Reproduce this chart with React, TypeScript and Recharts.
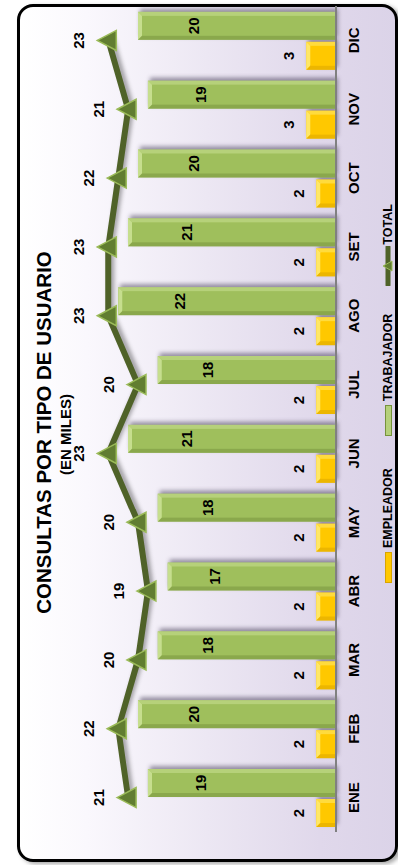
import React from 'react';
import { ComposedChart, Bar, Line, XAxis, YAxis, LabelList } from 'recharts';

// datos (en miles)
const months = ['ENE', 'FEB', 'MAR', 'ABR', 'MAY', 'JUN', 'JUL', 'AGO', 'SET', 'OCT', 'NOV', 'DIC'];
const empleador = [2, 2, 2, 2, 2, 2, 2, 2, 2, 2, 3, 3];
const trabajador = [19, 20, 18, 17, 18, 21, 18, 22, 21, 20, 19, 20];
const total = [21, 22, 20, 19, 20, 23, 20, 23, 23, 22, 21, 23];

const data = months.map((month, i) => ({
  month,
  empleador: empleador[i],
  trabajador: trabajador[i],
  total: total[i],
}));

const FONT = '"Liberation Sans", Arial, sans-serif';
const W = 865;
const H = 398;

const bevelBar = (base: string, light: string, dark: string) => (props: any) => {
  const { x, y, width, height } = props;
  if (!height || height <= 0) return null;
  const b = Math.min(4, width / 4, height / 3);
  return (
    <g style={{ filter: 'drop-shadow(3px 2px 2px rgba(40,30,60,0.45))' }}>
      <rect x={x} y={y} width={width} height={height} fill={base} />
      <polygon
        points={`${x},${y} ${x + width},${y} ${x + width - b},${y + b} ${x + b},${y + b}`}
        fill={light}
      />
      <polygon
        points={`${x + width},${y} ${x + width},${y + height} ${x + width - b},${y + height} ${x + width - b},${y + b}`}
        fill={light}
        opacity={0.6}
      />
      <polygon
        points={`${x},${y} ${x + b},${y + b} ${x + b},${y + height} ${x},${y + height}`}
        fill={dark}
        opacity={0.5}
      />
    </g>
  );
};

const GreenBar = bevelBar('#9fbf5c', '#c6de8e', '#76923c');
const GoldBar = bevelBar('#ffc800', '#ffe766', '#d9a400');

const InnerLabel = (props: any) => {
  const vb = props.viewBox || props;
  const { x, y, width, height } = vb;
  return (
    <text
      x={x + width / 2}
      y={y + height * 0.28}
      textAnchor="middle"
      dominantBaseline="central"
      fontFamily={FONT}
      fontWeight="bold"
      fontSize={15}
      fill="#000"
    >
      {props.value}
    </text>
  );
};

const Triangle = (props: any) => {
  const { cx, cy } = props;
  if (cx == null || cy == null) return null;
  return (
    <polygon
      points={`${cx},${cy - 11} ${cx + 10},${cy + 8} ${cx - 10},${cy + 8}`}
      fill="#617d31"
      stroke="#9bbb59"
      strokeWidth={1.5}
    />
  );
};

const labelStyle = { fontFamily: FONT, fontWeight: 'bold', fontSize: 15, fill: '#000' };

const Legend = () => (
  <div
    style={{
      position: 'absolute',
      left: 282,
      top: 380,
      display: 'flex',
      alignItems: 'center',
      fontFamily: FONT,
      fontWeight: 'bold',
      fontSize: 12.5,
      lineHeight: '16px',
    }}
  >
    <span style={{ width: 31, height: 7, background: '#ffc800', border: '1px solid #d9a400', boxSizing: 'border-box' }} />
    <span style={{ marginLeft: 4 }}>EMPLEADOR</span>
    <span style={{ marginLeft: 32, width: 31, height: 7, background: '#b5d07a', border: '1px solid #76923c', boxSizing: 'border-box' }} />
    <span style={{ marginLeft: 4 }}>TRABAJADOR</span>
    <svg width={40} height={12} style={{ marginLeft: 28 }}>
      <line x1={1} y1={6} x2={39} y2={6} stroke="#4f6228" strokeWidth={5} strokeLinecap="round" />
      <polygon points="20,1 25,10 15,10" fill="#617d31" stroke="#9bbb59" strokeWidth={1} />
    </svg>
    <span style={{ marginLeft: 1 }}>TOTAL</span>
  </div>
);

export default function App() {
  return (
    <div style={{ position: 'fixed', left: 0, top: 0, width: H, height: W, overflow: 'hidden', background: '#fff' }}>
      <div
        style={{
          position: 'absolute',
          left: 0,
          top: 0,
          width: W,
          height: H,
          transformOrigin: '0 0',
          transform: `translate(0px, ${W}px) rotate(-90deg)`,
        }}
      >
        <div
          style={{
            position: 'absolute',
            left: 3,
            top: 17,
            width: 858,
            height: 381,
            boxSizing: 'border-box',
            border: '3px solid #000',
            borderRadius: 16,
            background: 'linear-gradient(to bottom, #ffffff 0%, #faf8fd 18%, #ece7f3 50%, #e0d8eb 80%, #dbd3e8 100%)',
            boxShadow: '-2px 3px 4px rgba(0,0,0,0.35)',
          }}
        />
        <div
          style={{
            position: 'absolute',
            left: 0,
            top: 34,
            width: W,
            textAlign: 'center',
            fontFamily: FONT,
            fontWeight: 'bold',
            fontSize: 20.5,
            lineHeight: '20.5px',
          }}
        >
          CONSULTAS POR TIPO DE USUARIO
        </div>
        <div
          style={{
            position: 'absolute',
            left: 0,
            top: 58,
            width: W - 4,
            textAlign: 'center',
            fontFamily: FONT,
            fontWeight: 'bold',
            fontSize: 15,
            lineHeight: '15px',
          }}
        >
          (EN MILES)
        </div>
        <div style={{ position: 'absolute', left: 0, top: 0 }}>
          <ComposedChart
            width={W}
            height={H}
            data={data}
            margin={{ top: 39, right: 6, bottom: 32, left: 33 }}
            barGap={2}
          >
            <XAxis
              dataKey="month"
              interval={0}
              height={30}
              tickLine={false}
              tickMargin={6}
              axisLine={{ stroke: '#808080', strokeWidth: 2 }}
              tick={labelStyle}
            />
            <YAxis hide domain={[0, 30]} />
            <Bar dataKey="empleador" name="EMPLEADOR" barSize={28} fill="#ffc800" shape={GoldBar} isAnimationActive={false}>
              <LabelList dataKey="empleador" position="top" offset={12} style={labelStyle} />
            </Bar>
            <Bar dataKey="trabajador" name="TRABAJADOR" barSize={28} fill="#9fbf5c" shape={GreenBar} isAnimationActive={false}>
              <LabelList dataKey="trabajador" content={InnerLabel} />
            </Bar>
            <Line
              dataKey="total"
              name="TOTAL"
              type="linear"
              stroke="#4f6228"
              strokeWidth={6}
              dot={Triangle}
              activeDot={false}
              isAnimationActive={false}
              style={{ filter: 'drop-shadow(2px 3px 2px rgba(0,0,0,0.35))' }}
            >
              <LabelList dataKey="total" position="top" offset={24} style={labelStyle} />
            </Line>
          </ComposedChart>
        </div>
        <Legend />
      </div>
    </div>
  );
}
